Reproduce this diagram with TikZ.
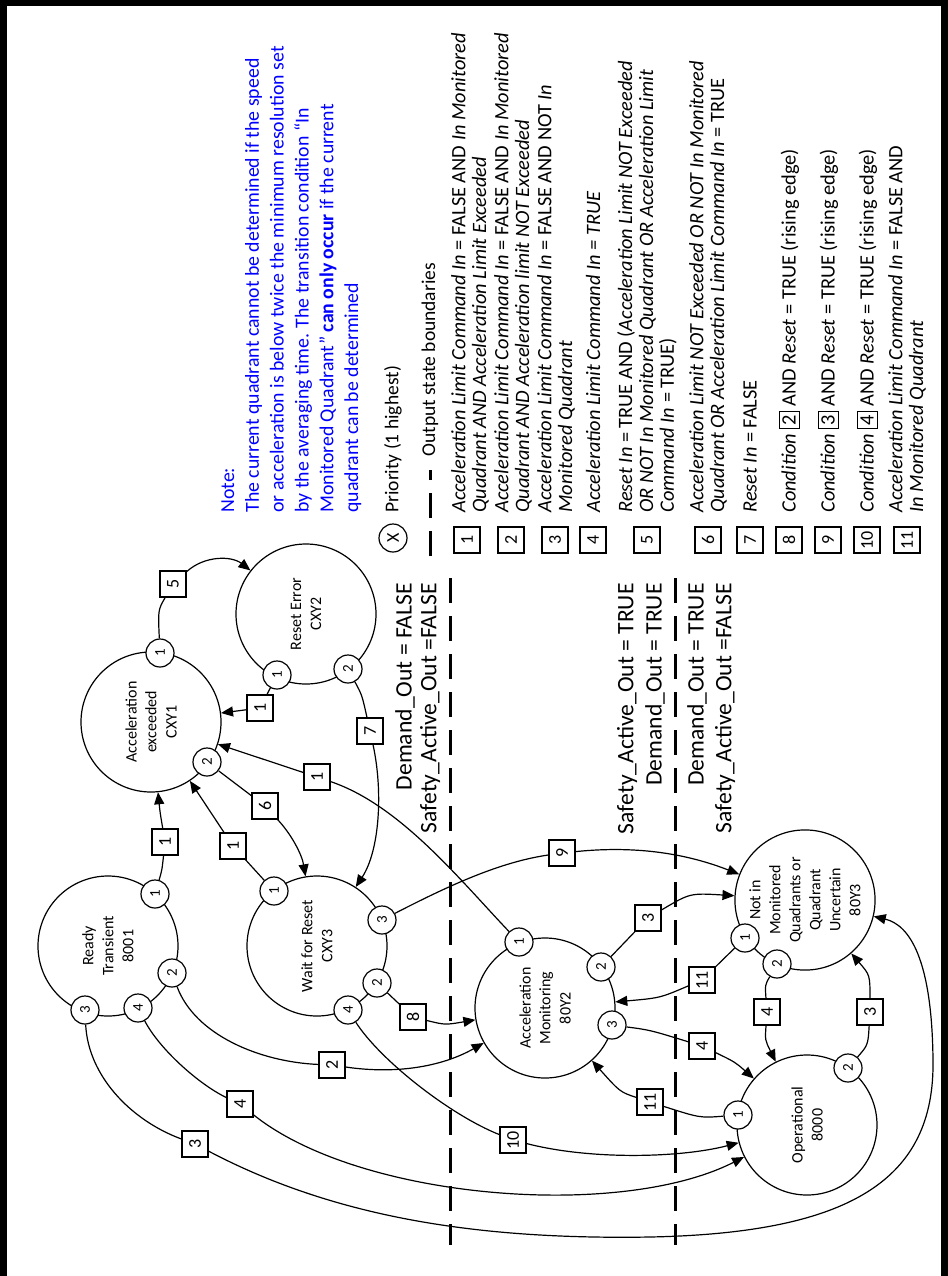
\documentclass[tikz,border=0pt]{standalone}
\usepackage{fontspec}
\setmainfont{Carlito}
\usepackage{tikz}
\usetikzlibrary{arrows.meta, positioning}

\tikzset{
  state/.style={circle, draw, line width=0.6pt, minimum size=70pt, inner sep=0pt, rotate=90, align=center, font=\fontsize{8}{10}\selectfont},
  prio/.style={circle, draw, line width=0.6pt, fill=white, minimum size=14pt, inner sep=0pt, rotate=90, font=\fontsize{7.5}{9}\selectfont},
  cond/.style={rectangle, draw, line width=0.6pt, fill=white, minimum size=13pt, inner sep=1pt, rotate=90, font=\fontsize{9}{10}\selectfont},
  trans/.style={line width=0.6pt, -{Triangle[length=6pt,width=5pt]}},
  bound/.style={line width=1.5pt, dash pattern=on 12.5pt off 6.5pt},
  region/.style={rotate=90, anchor=east, inner sep=0pt, font=\fontsize{11.8}{13}\selectfont},
  legtxt/.style={rotate=90, anchor=west, inner sep=0pt, align=left, font=\fontsize{10.2}{10.4}\selectfont}
}
\setlength{\fboxsep}{1.5pt}

\begin{document}
\begin{tikzpicture}[x=0.5pt, y=-0.5pt]
  \useasboundingbox (0,0) rectangle (948,1276);
  \fill (0,0) rectangle (7,1276);
  \fill (0,0) rectangle (948,6);
  \fill (941,0) rectangle (948,1276);

  \node[rotate=90, anchor=north west, align=left, inner sep=0pt, text=blue, font=\fontsize{9.9}{12.4}\selectfont] (note) at (221,513) {Note:\\The current quadrant cannot be determined if the speed\\or acceleration is below twice the minimum resolution set\\by the averaging time. The transition condition “In\\Monitored Quadrant” \textbf{can only occur} if the current\\quadrant can be determined};

  \node[prio, font=\fontsize{9}{10}\selectfont] (lx) at (393,538) {X};
  \node[legtxt, font=\fontsize{9.75}{10.4}\selectfont] (lxt) at (393,513) {Priority (1 highest)};
  \coordinate (lb1) at (430,556);
  \coordinate (lb2) at (430,470);
  \draw[bound] (lb1) -- (lb2);
  \node[legtxt, font=\fontsize{9.75}{10.4}\selectfont] (lbt) at (430,457) {Output state boundaries};

  \node[cond] (l1) at (467,540) {1};
  \node[legtxt] (l1t) at (470,513) {\textit{Acceleration Limit Command In} = FALSE AND \textit{In Monitored}\\\textit{Quadrant AND Acceleration Limit Exceeded}};
  \node[cond] (l2) at (511,540) {2};
  \node[legtxt] (l2t) at (513,513) {\textit{Acceleration Limit Command In} = FALSE AND \textit{In Monitored}\\\textit{Quadrant AND Acceleration limit NOT Exceeded}};
  \node[cond] (l3) at (555,540) {3};
  \node[legtxt] (l3t) at (556,513) {\textit{Acceleration Limit Command In} = FALSE AND NOT \textit{In}\\\textit{Monitored Quadrant}};
  \node[cond] (l4) at (593,540) {4};
  \node[legtxt] (l4t) at (593,513) {\textit{Acceleration Limit Command In = TRUE}};
  \node[cond] (l5) at (647,540) {5};
  \node[legtxt] (l5t) at (647,513) {\textit{Reset In} = TRUE AND (\textit{Acceleration Limit NOT Exceeded}\\\textit{OR NOT In Monitored Quadrant OR Acceleration Limit}\\\textit{Command In} = TRUE)};
  \node[cond] (l6) at (708,540) {6};
  \node[legtxt] (l6t) at (708,513) {\textit{Acceleration Limit NOT Exceeded OR NOT In Monitored}\\\textit{Quadrant OR Acceleration Limit Command In} = TRUE};
  \node[cond] (l7) at (750,540) {7};
  \node[legtxt] (l7t) at (750,513) {\textit{Reset In} = FALSE};
  \node[cond] (l8) at (789,540) {8};
  \node[legtxt] (l8t) at (789,513) {\textit{Condition} \fbox{2} AND \textit{Reset} = TRUE (rising edge)};
  \node[cond] (l9) at (828,540) {9};
  \node[legtxt] (l9t) at (828,513) {\textit{Condition} \fbox{3} AND \textit{Reset} = TRUE (rising edge)};
  \node[cond] (l10) at (867,540) {10};
  \node[legtxt] (l10t) at (867,513) {\textit{Condition} \fbox{4} AND \textit{Reset} = TRUE (rising edge)};
  \node[cond] (l11) at (907,540) {11};
  \node[legtxt] (l11t) at (907,513) {\textit{Acceleration Limit Command In} = FALSE AND\\\textit{In Monitored Quadrant}};

  \node[region] (r1a) at (405,583) {Demand\_Out = FALSE};
  \node[region] (r1b) at (430,583) {Safety\_Active\_Out =FALSE};
  \node[region] (r2a) at (627,583) {Safety\_Active\_Out = TRUE};
  \node[region] (r2b) at (655,583) {Demand\_Out = TRUE};
  \node[region] (r3a) at (697,583) {Demand\_Out = TRUE};
  \node[region] (r3b) at (725,583) {Safety\_Active\_Out =FALSE};
  \coordinate (d1t) at (450,578);
  \coordinate (d1b) at (450,1245);
  \coordinate (d2t) at (675,578);
  \coordinate (d2b) at (675,1245);
  \draw[bound] (d1t) -- (d1b);
  \draw[bound] (d2t) -- (d2b);

  \node[state] (ae) at (151,722) {Acceleration\\exceeded\\CXY1};
  \node[state] (re) at (306,614) {Reset Error\\CXY2};
  \node[state] (rt) at (108,946) {Ready\\Transient\\8001};
  \node[state] (wr) at (317,946) {Wait for Reset\\CXY3};
  \node[state] (am) at (545,1008) {Acceleration\\Monitoring\\80Y2};
  \node[state] (nq) at (805,900) {Not in\\Monitored\\Quadrants or\\Quadrant\\Uncertain\\80Y3};
  \node[state] (op) at (807,1125) {Operational\\8000};

  \node[prio] (ae1) at (160,653) {1};
  \node[prio] (ae2) at (207,762) {2};
  \node[prio] (re1) at (277,675) {1};
  \node[prio] (re2) at (348,669) {2};
  \node[prio] (rt1) at (155,894) {1};
  \node[prio] (rt2) at (172,973) {2};
  \node[prio] (rt3) at (85,1010) {3};
  \node[prio] (rt4) at (138,1008) {4};
  \node[prio] (wr1) at (274,891) {1};
  \node[prio] (wr2) at (377,983) {2};
  \node[prio] (wr3) at (382,920) {3};
  \node[prio] (wr4) at (348,1010) {4};
  \node[prio] (am1) at (519,942) {1};
  \node[prio] (am2) at (601,967) {2};
  \node[prio] (am3) at (612,1025) {3};
  \node[prio] (nq1) at (745,938) {1};
  \node[prio] (nq2) at (777,964) {2};
  \node[prio] (op1) at (738,1115) {1};
  \node[prio] (op2) at (848,1068) {2};

  \node[cond] (c5) at (173,584) {5};
  \node[cond] (c1a) at (260,708) {1};
  \node[cond] (c7) at (370,731) {7};
  \node[cond] (c6) at (265,806) {6};
  \node[cond] (c1b) at (233,846) {1};
  \node[cond] (c1c) at (165,842) {1};
  \node[cond] (c1d) at (317,777) {1};
  \node[cond] (c8) at (413,1017) {8};
  \node[cond] (c9) at (562,853) {9};
  \node[cond] (c2) at (332,1065) {2};
  \node[cond] (c4a) at (240,1104) {4};
  \node[cond] (c3a) at (195,1144) {3};
  \node[cond] (c10) at (513,1140) {10};
  \node[cond] (c3b) at (648,918) {3};
  \node[cond] (c11a) at (702,980) {11};
  \node[cond] (c4b) at (702,1046) {4};
  \node[cond] (c11b) at (650,1102) {11};
  \node[cond] (c4c) at (767,1012) {4};
  \node[cond] (c3c) at (870,1012) {3};

  \draw[trans] (ae1) .. controls (158,610) .. (c5) .. controls (205,555) and (232,556) .. (re);
  \draw[trans] (re1) -- (c1a) -- (ae);
  \draw[trans] (re2) .. controls (362,695) .. (c7) .. controls (383,790) and (380,850) .. (wr);
  \draw[trans] (ae2) -- (c6) .. controls (292,835) and (302,855) .. (wr);
  \draw[trans] (wr1) -- (c1b) -- (ae);
  \draw[trans] (rt1) .. controls (162,870) .. (c1c) .. controls (160,812) .. (ae);
  \draw[trans] (am1) .. controls (460,880) and (400,805) .. (c1d) -- (ae);
  \draw[trans] (wr2) -- (c8) .. controls (445,1025) .. (am);
  \draw[trans] (wr3) .. controls (450,885) and (500,862) .. (c9) .. controls (640,845) and (690,855) .. (nq);
  \draw[trans] (rt2) .. controls (195,1035) and (260,1062) .. (c2) .. controls (400,1075) and (445,1065) .. (am);
  \draw[trans] (rt4) .. controls (160,1050) and (200,1085) .. (c4a) .. controls (360,1200) and (620,1220) .. (op);
  \draw[trans] (rt3) .. controls (88,1075) and (130,1120) .. (c3a) .. controls (330,1215) and (470,1240) .. (650,1237) .. controls (850,1233) and (935,1180) .. (933,1060) .. controls (932,960) and (910,925) .. (nq);
  \draw[trans] (wr4) .. controls (380,1060) and (450,1115) .. (c10) .. controls (590,1160) and (680,1158) .. (op);
  \draw[trans] (am2) -- (c3b) .. controls (690,893) .. (nq);
  \draw[trans] (nq1) -- (c11a) .. controls (660,998) .. (am);
  \draw[trans] (am3) .. controls (650,1030) .. (c4b) .. controls (735,1062) .. (op);
  \draw[trans] (op1) .. controls (700,1118) .. (c11b) .. controls (620,1092) .. (am);
  \draw[trans] (nq2) .. controls (765,985) .. (c4c) .. controls (765,1040) .. (op);
  \draw[trans] (op2) .. controls (868,1045) .. (c3c) .. controls (870,975) .. (nq);
\end{tikzpicture}
\end{document}
